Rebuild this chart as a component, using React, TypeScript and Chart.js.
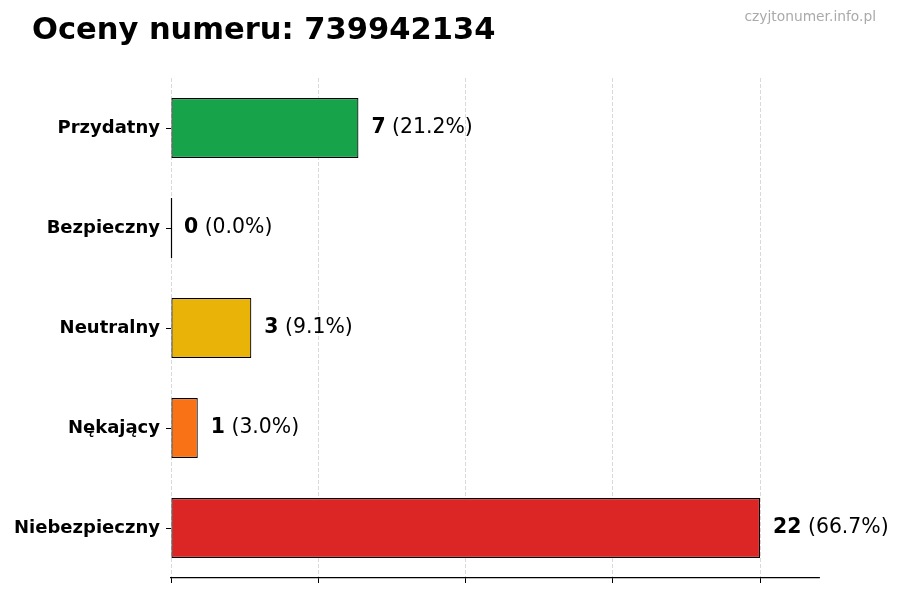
import React, { useEffect, useRef } from "react";
import { Chart, registerables } from "chart.js";

Chart.register(...registerables);

const categories = ["Przydatny", "Bezpieczny", "Neutralny", "Nękający", "Niebezpieczny"];
const counts = [7, 0, 3, 1, 22];
const barColors = ["#16a34a", "#3b82f6", "#eab308", "#f97316", "#dc2626"];
const xTickValues = [0, 5.5, 11, 16.5, 22];
const titleText = "Oceny numeru: 739942134";
const watermarkText = "czyjtonumer.info.pl";

const FONT = "'DejaVu Sans', sans-serif";

const overlayPlugin = {
  id: "overlay",
  afterDatasetsDraw(chart: any) {
    const ctx = chart.ctx;
    const meta = chart.getDatasetMeta(0);
    const total = counts.reduce((a, b) => a + b, 0);
    ctx.save();
    meta.data.forEach((bar: any, i: number) => {
      const v = counts[i];
      // zero-length bars still show their outline edge
      if (v === 0) {
        const half = bar.height / 2;
        ctx.strokeStyle = "#000";
        ctx.lineWidth = 1.2;
        ctx.beginPath();
        ctx.moveTo(bar.x + 0.5, bar.y - half);
        ctx.lineTo(bar.x + 0.5, bar.y + half);
        ctx.stroke();
      }
      const pct = " (" + ((v / total) * 100).toFixed(1) + "%)";
      let x = bar.x + 13;
      ctx.textBaseline = "middle";
      ctx.textAlign = "left";
      ctx.fillStyle = "#000";
      ctx.font = "bold 20.4px " + FONT;
      ctx.fillText(String(v), x, bar.y);
      x += ctx.measureText(String(v)).width;
      ctx.font = "20.4px " + FONT;
      ctx.fillText(pct, x, bar.y);
    });
    ctx.restore();
  },
  afterDraw(chart: any) {
    const ctx = chart.ctx;
    ctx.save();
    ctx.textBaseline = "middle";
    ctx.textAlign = "left";
    ctx.fillStyle = "#000";
    ctx.font = "bold 30.5px " + FONT;
    ctx.fillText(titleText, 32, 31);
    ctx.textAlign = "right";
    ctx.fillStyle = "#aaaaaa";
    ctx.font = "13.8px " + FONT;
    ctx.fillText(watermarkText, 876, 17);
    ctx.restore();
  },
};

export default function App() {
  const canvasRef = useRef<HTMLCanvasElement | null>(null);
  const chartRef = useRef<Chart | null>(null);

  useEffect(() => {
    document.body.style.margin = "0";
    if (!canvasRef.current) return;
    if (chartRef.current) chartRef.current.destroy();
    const ctx = canvasRef.current.getContext("2d");
    if (!ctx) return;

    chartRef.current = new Chart(ctx, {
      type: "bar",
      data: {
        labels: categories,
        datasets: [
          {
            data: counts,
            backgroundColor: barColors,
            borderColor: "#000",
            borderWidth: 1.2,
            borderSkipped: false,
            barPercentage: 0.6,
            categoryPercentage: 1,
          },
        ],
      },
      options: {
        indexAxis: "y",
        responsive: false,
        animation: false,
        layout: { padding: { top: 78, right: 81, bottom: 17, left: 0 } },
        plugins: {
          legend: { display: false },
          tooltip: { enabled: false },
        },
        scales: {
          x: {
            min: 0,
            max: 24.2,
            afterBuildTicks: (scale: any) => {
              scale.ticks = xTickValues.map(v => ({ value: v }));
            },
            ticks: { display: false },
            grid: {
              color: "#cfcfcf",
              lineWidth: 0.8,
              tickLength: 5,
              tickColor: "#000",
              tickWidth: 1,
              tickBorderDash: [],
            },
            // in Chart.js 4, border.dash dashes the grid lines; the axis line stays solid
            border: { display: true, color: "#000", width: 1.2, dash: [4, 2] },
          },
          y: {
            afterFit: (scale: any) => {
              scale.width = 171;
            },
            ticks: {
              color: "#000",
              padding: 6,
              font: { family: FONT, size: 18, weight: "bold" },
            },
            grid: {
              offset: false,
              drawOnChartArea: false,
              tickLength: 5,
              tickColor: "#000",
              tickWidth: 1,
            },
            border: { display: false },
          },
        },
      },
      plugins: [overlayPlugin],
    } as any);

    return () => {
      if (chartRef.current) {
        chartRef.current.destroy();
        chartRef.current = null;
      }
    };
  }, []);

  return <canvas ref={canvasRef} width={900} height={600} style={{ width: 900, height: 600 }} />;
}
